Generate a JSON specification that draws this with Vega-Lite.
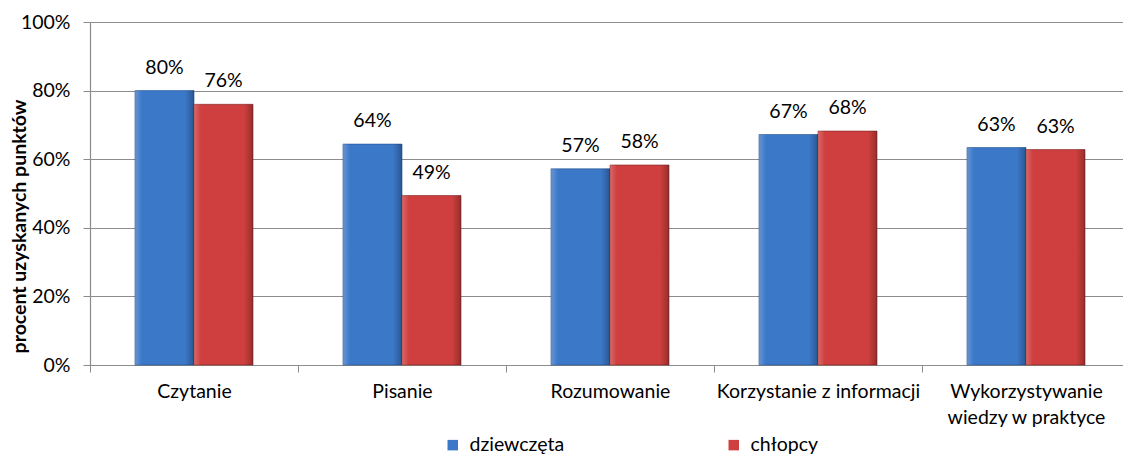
{
  "$schema": "https://vega.github.io/schema/vega-lite/v6.json",
  "width": 1033,
  "height": 343,
  "autosize": {"type": "none"},
  "padding": {"left": 90, "top": 22, "right": 0, "bottom": 89},
  "background": "white",
  "config": {
    "font": "Lato",
    "view": {"stroke": null},
    "axis": {"labelColor": "#000000", "titleColor": "#000000", "labelFont": "Lato", "titleFont": "Lato"},
    "legend": {"labelFont": "Lato", "labelColor": "#000000"}
  },
  "data": {
    "values": [
      {"kategoria": "Czytanie", "grupa": "dziewczęta", "wartosc": 0.80},
      {"kategoria": "Czytanie", "grupa": "chłopcy", "wartosc": 0.76},
      {"kategoria": "Pisanie", "grupa": "dziewczęta", "wartosc": 0.644},
      {"kategoria": "Pisanie", "grupa": "chłopcy", "wartosc": 0.494},
      {"kategoria": "Rozumowanie", "grupa": "dziewczęta", "wartosc": 0.572},
      {"kategoria": "Rozumowanie", "grupa": "chłopcy", "wartosc": 0.583},
      {"kategoria": "Korzystanie z informacji", "grupa": "dziewczęta", "wartosc": 0.672},
      {"kategoria": "Korzystanie z informacji", "grupa": "chłopcy", "wartosc": 0.682},
      {"kategoria": "Wykorzystywanie wiedzy w praktyce", "grupa": "dziewczęta", "wartosc": 0.634},
      {"kategoria": "Wykorzystywanie wiedzy w praktyce", "grupa": "chłopcy", "wartosc": 0.628}
    ]
  },
  "encoding": {
    "x": {
      "field": "kategoria",
      "type": "nominal",
      "sort": null,
      "scale": {"range": [0, 1040], "paddingInner": 0, "paddingOuter": 0},
      "axis": {
        "title": null,
        "labelAngle": 0,
        "labelFontSize": 19.5,
        "labelPadding": 10,
        "labelLineHeight": 26,
        "labelLimit": 0,
        "labelExpr": "datum.label == 'Wykorzystywanie wiedzy w praktyce' ? ['Wykorzystywanie', 'wiedzy w praktyce'] : datum.label",
        "domain": true,
        "domainColor": "#8c8c8c",
        "domainWidth": 1.2,
        "ticks": true,
        "tickBand": "extent",
        "tickSize": 7,
        "tickColor": "#8c8c8c",
        "grid": false
      }
    },
    "xOffset": {
      "field": "grupa",
      "type": "nominal",
      "sort": ["dziewczęta", "chłopcy"],
      "scale": {"paddingInner": 0, "paddingOuter": 0.7627}
    },
    "y": {
      "field": "wartosc",
      "type": "quantitative",
      "scale": {"domain": [0, 1], "nice": false},
      "axis": {
        "values": [0, 0.2, 0.4, 0.6, 0.8, 1],
        "format": ".0%",
        "labelFontSize": 19.5,
        "labelPadding": 13,
        "tickSize": 7,
        "tickColor": "#8c8c8c",
        "domain": true,
        "domainColor": "#8c8c8c",
        "domainWidth": 1.2,
        "grid": true,
        "gridColor": "#8c8c8c",
        "gridWidth": 1.2,
        "title": "procent uzyskanych punktów",
        "titleFontSize": 19.5,
        "titleFontWeight": "bold",
        "titleAngle": -90,
        "titleX": -71,
        "titleY": 204,
        "titleAlign": "center",
        "titleBaseline": "middle"
      }
    }
  },
  "layer": [
    {
      "mark": {"type": "bar", "strokeWidth": 1, "strokeOpacity": 0.6},
      "encoding": {
        "color": {
          "field": "grupa",
          "type": "nominal",
          "scale": {"domain": ["dziewczęta", "chłopcy"], "range": ["#3b78c8", "#cf3f3f"]},
          "legend": {
            "orient": "none",
            "legendX": 353,
            "legendY": 413,
            "direction": "horizontal",
            "title": null,
            "symbolType": "square",
            "symbolSize": 110,
            "symbolStrokeWidth": 0,
            "symbolOpacity": 1,
            "labelFontSize": 19.5,
            "labelOffset": 7,
            "columnPadding": 159,
            "padding": 0
          }
        },
        "stroke": {
          "field": "grupa",
          "type": "nominal",
          "scale": {"domain": ["dziewczęta", "chłopcy"], "range": ["#24508c", "#7e2222"]},
          "legend": null
        }
      }
    },
    {
      "mark": {
        "type": "bar",
        "fill": {
          "gradient": "linear",
          "x1": 0, "x2": 1, "y1": 0, "y2": 0,
          "stops": [
            {"offset": 0, "color": "rgba(255,255,255,0.22)"},
            {"offset": 0.12, "color": "rgba(255,255,255,0)"},
            {"offset": 0.85, "color": "rgba(0,0,0,0)"},
            {"offset": 1, "color": "rgba(0,0,0,0.28)"}
          ]
        }
      },
      "encoding": {}
    },
    {
      "mark": {"type": "text", "baseline": "bottom", "dy": -13, "fontSize": 19.5, "color": "#000000"},
      "encoding": {
        "text": {"field": "wartosc", "type": "quantitative", "format": ".0%"}
      }
    }
  ]
}
